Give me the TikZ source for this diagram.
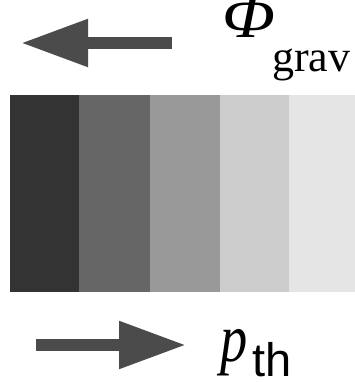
\documentclass[tikz,border=0pt]{standalone}
\usepackage{fontspec}
\setmainfont{Liberation Serif}
\newfontfamily\labelsans{Liberation Sans}
\usetikzlibrary{arrows.meta}
\definecolor{bandA}{HTML}{333333}
\definecolor{bandB}{HTML}{666666}
\definecolor{bandC}{HTML}{999999}
\definecolor{bandD}{HTML}{CCCCCC}
\definecolor{bandE}{HTML}{E5E5E5}
\definecolor{arrowgray}{HTML}{4B4B4B}
\begin{document}
\begin{tikzpicture}[x=1pt,y=1pt,
  band/.style={fill=#1, draw=none},
  fatarrow/.style={draw=arrowgray, line width=11.5pt,
    -{Triangle[length=67pt,width=45pt,fill=arrowgray]}},
  lbl/.style={inner sep=0pt, anchor=base west}]
  \useasboundingbox (0,0) rectangle (355,382);

  % graded strip
  \fill[band=bandA] (10,90) rectangle (79,287);
  \fill[band=bandB] (79,90) rectangle (150,287);
  \fill[band=bandC] (150,90) rectangle (220,287);
  \fill[band=bandD] (220,90) rectangle (289,287);
  \fill[band=bandE] (289,90) rectangle (355,287);

  % gravitational arrow (pointing left)
  \coordinate (gstart) at (172,339);
  \coordinate (gend) at (21,339);
  \draw[fatarrow] (gstart) -- (gend);
  \node[lbl] (phi) at (222,344)
    {\rlap{\raisebox{0pt}[34pt][0pt]{\scalebox{1.12}[1]{\fontsize{62}{62}\selectfont\itshape Φ}}}\kern50pt\raisebox{-34pt}{\fontsize{44}{44}\selectfont grav}};

  % thermal pressure arrow (pointing right)
  \coordinate (pstart) at (36,37);
  \coordinate (pend) at (186,37);
  \draw[fatarrow] (pstart) -- (pend);
  \node[lbl] (pth) at (220,20)
    {\rlap{\scalebox{0.8}[1]{\fontsize{68}{68}\selectfont\itshape p}}\kern32pt\raisebox{-15pt}[30pt][0pt]{\fontsize{47}{47}\selectfont\labelsans th}};
\end{tikzpicture}
\end{document}
